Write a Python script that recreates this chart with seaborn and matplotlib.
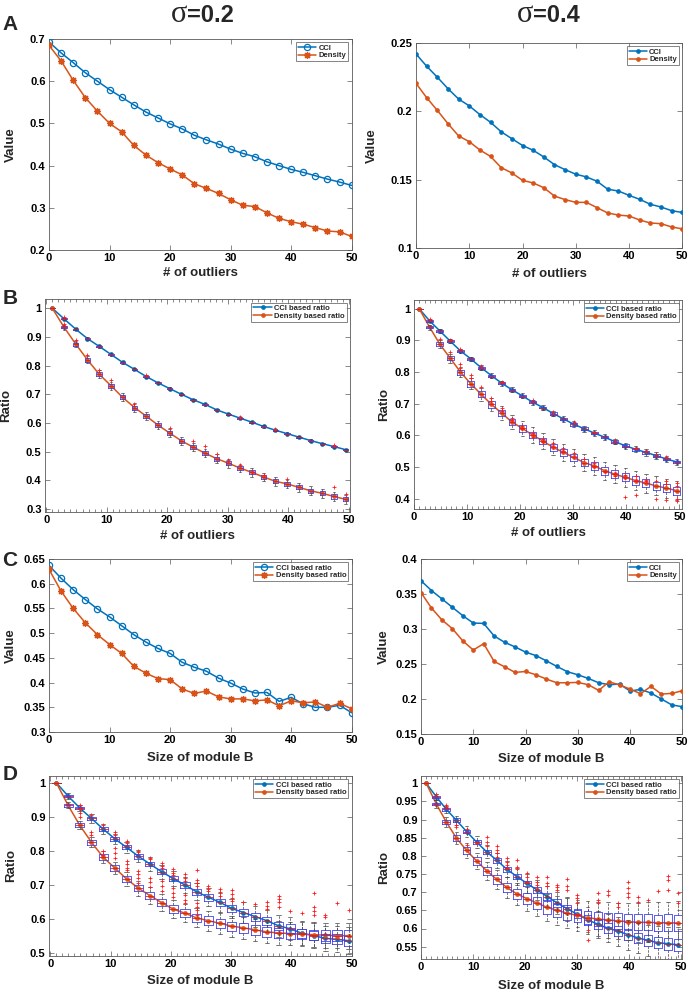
import numpy as np
import pandas as pd
import matplotlib
matplotlib.use("Agg")
import matplotlib.pyplot as plt
import seaborn as sns
from matplotlib.ticker import FuncFormatter, MultipleLocator

# ---------------- data ----------------
x_grid = [0, 2, 4, 6, 8, 10, 12, 14, 16, 18, 20, 22, 24, 26, 28, 30, 32, 34, 36, 38, 40, 42, 44, 46, 48, 50]
x_box = [1.0, 2.94, 4.88, 6.82, 8.76, 10.7, 12.64, 14.58, 16.52, 18.46, 20.4, 22.34, 24.28, 26.22,
         28.16, 30.1, 32.04, 33.98, 35.92, 37.86, 39.8, 41.74, 43.68, 45.62, 47.56, 49.5]

# Panel A
a1_cci = [0.693, 0.667, 0.644, 0.620, 0.600, 0.580, 0.562, 0.544, 0.527, 0.513, 0.499, 0.487, 0.472,
          0.461, 0.451, 0.439, 0.429, 0.421, 0.409, 0.400, 0.391, 0.384, 0.376, 0.368, 0.361, 0.353]
a1_den = [0.685, 0.648, 0.602, 0.561, 0.529, 0.500, 0.480, 0.448, 0.425, 0.407, 0.392, 0.378, 0.357,
          0.346, 0.334, 0.319, 0.306, 0.303, 0.288, 0.275, 0.267, 0.261, 0.253, 0.245, 0.243, 0.232]
a2_cci = [0.242, 0.233, 0.225, 0.2166, 0.209, 0.204, 0.1976, 0.192, 0.185, 0.180, 0.175, 0.1715, 0.1666,
          0.161, 0.1573, 0.154, 0.152, 0.1488, 0.143, 0.1417, 0.1385, 0.1356, 0.132, 0.130, 0.1273, 0.126]
a2_den = [0.2205, 0.210, 0.2007, 0.191, 0.182, 0.1778, 0.1717, 0.167, 0.1588, 0.1549, 0.1495, 0.1476, 0.1441,
          0.138, 0.1354, 0.1334, 0.1334, 0.1295, 0.1256, 0.1241, 0.1234, 0.1205, 0.1183, 0.1178, 0.1154, 0.114]

# Panel B
b1_cci = [1.0, 0.963, 0.927, 0.894, 0.867, 0.839, 0.811, 0.787, 0.762, 0.740, 0.720, 0.700, 0.681,
          0.665, 0.646, 0.631, 0.617, 0.603, 0.588, 0.575, 0.563, 0.551, 0.539, 0.528, 0.518, 0.507]
b1_den = [1.0, 0.934, 0.875, 0.820, 0.770, 0.730, 0.689, 0.654, 0.624, 0.593, 0.565, 0.538, 0.516,
          0.495, 0.476, 0.460, 0.443, 0.428, 0.412, 0.397, 0.388, 0.376, 0.364, 0.355, 0.344, 0.334]
b1_cci_box = [0, .002, .002, .002, .002, .002, .002, .002, .002, .002, .002, .002, .002,
              .002, .002, .002, .002, .002, .002, .002, .002, .002, .002, .002, .002, .002]
b1_cci_wsk = [0, .004, .004, .004, .004, .004, .004, .004, .004, .004, .004, .004, .004,
              .004, .004, .004, .004, .004, .004, .004, .004, .004, .004, .004, .004, .004]
b1_den_box = [0, .004, .005, .006, .006, .007, .007, .007, .007, .007, .007, .007, .007,
              .007, .007, .007, .007, .007, .007, .007, .007, .007, .007, .007, .007, .007]
b1_den_wsk = [0, .009, .011, .012, .013, .014, .014, .015, .015, .015, .015, .015, .015,
              .015, .015, .015, .015, .015, .015, .015, .015, .015, .015, .015, .015, .015]
b1_out_i = [2, 2, 3, 4, 5, 6, 8, 9, 11, 13, 14, 15, 16, 17, 17, 18, 19, 20, 21, 25, 26, 25]
b1_out_v = [0.968, 0.945, 0.888, 0.838, 0.785, 0.751, 0.667, 0.768, 0.582, 0.536, 0.519, 0.493, 0.47,
            0.453, 0.622, 0.43, 0.42, 0.58, 0.406, 0.377, 0.351, 0.523]

b2_cci = [1.0, 0.962, 0.930, 0.898, 0.867, 0.842, 0.814, 0.789, 0.765, 0.744, 0.725, 0.705, 0.688,
          0.669, 0.652, 0.635, 0.621, 0.607, 0.594, 0.580, 0.567, 0.556, 0.546, 0.536, 0.525, 0.516]
b2_den = [1.0, 0.942, 0.888, 0.844, 0.800, 0.763, 0.730, 0.698, 0.670, 0.642, 0.622, 0.601, 0.582,
          0.562, 0.546, 0.530, 0.514, 0.503, 0.488, 0.477, 0.467, 0.457, 0.449, 0.440, 0.433, 0.425]
b2_cci_box = [0, .002, .003, .003, .003, .003, .003, .003, .003, .003, .003, .003, .003,
              .004, .004, .004, .004, .004, .004, .004, .004, .004, .004, .004, .004, .004]
b2_cci_wsk = [0, .005, .006, .006, .007, .007, .007, .008, .008, .008, .008, .008, .008,
              .009, .009, .009, .009, .009, .009, .009, .010, .010, .010, .010, .010, .010]
b2_den_box = [0, .004, .006, .007, .008, .009, .009, .010, .010, .010, .010, .011, .011,
              .011, .012, .012, .012, .012, .012, .013, .013, .013, .013, .013, .013, .013]
b2_den_wsk = [0, .008, .012, .014, .016, .018, .020, .020, .022, .022, .024, .024, .025,
              .025, .026, .026, .027, .027, .028, .028, .030, .030, .030, .030, .030, .030]
b2_out_i = [3, 4, 5, 5, 6, 6, 7, 8, 8, 9, 9, 10, 10, 11, 11, 12, 12, 13, 13, 14, 14, 15, 15, 16, 16,
            17, 18, 18, 19, 20, 20, 21, 21, 21, 22, 22, 22, 23, 23, 24, 24, 25, 25, 25, 26, 26, 26, 26,
            2, 4, 5, 7, 9, 12, 14, 16, 18, 20, 22, 23, 24, 25]
b2_out_v = [0.905, 0.862, 0.826, 0.812, 0.79, 0.78, 0.754, 0.717, 0.707, 0.686, 0.678, 0.656, 0.647,
            0.628, 0.619, 0.607, 0.596, 0.588, 0.58, 0.575, 0.564, 0.559, 0.55, 0.543, 0.533,
            0.524, 0.512, 0.501, 0.485, 0.48, 0.47, 0.474, 0.464, 0.405, 0.47, 0.46, 0.41, 0.46, 0.455,
            0.456, 0.40, 0.455, 0.445, 0.395, 0.45, 0.44, 0.398, 0.392,
            0.967, 0.903, 0.872, 0.82, 0.77, 0.712, 0.675, 0.641, 0.612, 0.586, 0.561, 0.552, 0.541, 0.531]

# Panel C
c1_cci = [0.637, 0.611, 0.588, 0.568, 0.549, 0.533, 0.515, 0.497, 0.482, 0.469, 0.459, 0.441, 0.431,
          0.423, 0.409, 0.399, 0.387, 0.379, 0.380, 0.362, 0.370, 0.357, 0.350, 0.350, 0.354, 0.339]
c1_den = [0.629, 0.585, 0.550, 0.521, 0.497, 0.477, 0.459, 0.433, 0.419, 0.408, 0.406, 0.387, 0.378,
          0.383, 0.371, 0.367, 0.367, 0.363, 0.365, 0.353, 0.363, 0.359, 0.361, 0.350, 0.358, 0.347]
c2_cci = [0.369, 0.355, 0.343, 0.331, 0.319, 0.3085, 0.308, 0.290, 0.281, 0.2744, 0.267, 0.262, 0.2545,
          0.2465, 0.239, 0.2346, 0.2294, 0.2232, 0.2204, 0.2213, 0.2114, 0.2137, 0.2085, 0.200, 0.1915, 0.189]
c2_den = [0.352, 0.330, 0.313, 0.3005, 0.283, 0.270, 0.279, 0.2536, 0.246, 0.238, 0.2393, 0.2346, 0.2284,
          0.2232, 0.2232, 0.2237, 0.2204, 0.2123, 0.2246, 0.220, 0.2142, 0.2076, 0.218, 0.2071, 0.208, 0.2118]

# Panel D
d1_cci = [1.0, 0.961, 0.926, 0.895, 0.864, 0.835, 0.810, 0.784, 0.761, 0.738, 0.718, 0.699, 0.679,
          0.663, 0.648, 0.630, 0.618, 0.606, 0.594, 0.579, 0.570, 0.557, 0.550, 0.542, 0.539, 0.535]
d1_den = [1.0, 0.934, 0.875, 0.825, 0.781, 0.749, 0.717, 0.690, 0.668, 0.647, 0.628, 0.616, 0.602,
          0.594, 0.586, 0.578, 0.573, 0.567, 0.561, 0.558, 0.556, 0.554, 0.553, 0.551, 0.550, 0.550]
d1_cci_box = [0, .003, .004, .005, .005, .006, .006, .007, .007, .008, .008, .009, .009,
              .010, .010, .011, .011, .012, .012, .012, .013, .013, .014, .014, .015, .015]
d1_cci_wsk = [0, .008, .010, .012, .014, .015, .017, .018, .020, .021, .022, .024, .025,
              .026, .028, .029, .030, .031, .032, .033, .034, .035, .036, .037, .038, .040]
d1_den_box = [0, .004, .006, .007, .008, .009, .010, .010, .011, .011, .012, .012, .012,
              .013, .013, .013, .014, .014, .014, .015, .015, .015, .015, .016, .016, .016]
d1_den_wsk = [0, .009, .012, .015, .017, .019, .021, .022, .024, .025, .026, .027, .028,
              .029, .030, .031, .032, .033, .034, .035, .035, .036, .036, .037, .037, .038]
d1_out_i = [3, 4, 5, 6, 6, 7, 7, 8, 8, 9, 9, 10, 10, 10, 11, 11, 11, 12, 12, 12, 13, 13, 13, 13,
            14, 14, 14, 15, 15, 15, 16, 16, 16, 16, 17, 18, 19, 19, 19, 20, 20, 20, 20, 21, 22,
            23, 23, 23, 23, 24, 24, 25, 26,
            3, 3, 3, 4, 4, 5, 5, 6, 6, 6, 7, 7, 7, 7, 8, 8, 8, 8, 9, 9, 9, 10, 10, 10, 11, 11, 11,
            12, 12, 12, 13, 13, 13, 13]
d1_out_v = [0.935, 0.905, 0.876, 0.855, 0.847, 0.83, 0.822, 0.80, 0.796, 0.78, 0.775, 0.765, 0.755,
            0.748, 0.745, 0.735, 0.728, 0.73, 0.72, 0.712, 0.742, 0.715, 0.705, 0.695, 0.695, 0.688,
            0.68, 0.688, 0.678, 0.668, 0.683, 0.672, 0.662, 0.652, 0.648, 0.643, 0.648, 0.638, 0.628,
            0.667, 0.658, 0.648, 0.635, 0.622, 0.618, 0.675, 0.635, 0.622, 0.612, 0.612, 0.605, 0.645,
            0.625,
            0.923, 0.91, 0.898, 0.856, 0.846, 0.80, 0.787, 0.807, 0.794, 0.78, 0.77, 0.76, 0.75, 0.742,
            0.74, 0.73, 0.72, 0.705, 0.72, 0.708, 0.694, 0.71, 0.695, 0.682, 0.69, 0.676, 0.665,
            0.67, 0.655, 0.645, 0.645, 0.635, 0.626, 0.612]

d2_cci = [1.0, 0.963, 0.928, 0.898, 0.867, 0.838, 0.811, 0.788, 0.763, 0.743, 0.724, 0.706, 0.688,
          0.670, 0.654, 0.639, 0.624, 0.612, 0.601, 0.593, 0.583, 0.574, 0.567, 0.561, 0.558, 0.555]
d2_den = [1.0, 0.943, 0.893, 0.849, 0.815, 0.786, 0.759, 0.735, 0.713, 0.695, 0.682, 0.670, 0.658,
          0.650, 0.642, 0.636, 0.630, 0.626, 0.624, 0.621, 0.619, 0.617, 0.617, 0.616, 0.616, 0.615]
d2_cci_box = [0, .003, .004, .005, .005, .006, .006, .007, .007, .008, .008, .009, .009,
              .010, .011, .011, .012, .012, .013, .013, .014, .014, .015, .015, .016, .016]
d2_cci_wsk = [0, .008, .010, .012, .014, .016, .018, .020, .022, .024, .025, .027, .028,
              .030, .032, .034, .035, .037, .038, .040, .041, .042, .044, .045, .046, .048]
d2_den_box = [0, .004, .006, .008, .009, .010, .011, .012, .013, .014, .015, .016, .017,
              .017, .018, .019, .019, .020, .020, .021, .021, .022, .022, .022, .023, .023]
d2_den_wsk = [0, .010, .014, .017, .020, .022, .025, .027, .029, .031, .033, .035, .037,
              .039, .041, .043, .045, .047, .049, .050, .052, .054, .055, .057, .058, .060]
d2_out_i = [2, 3, 3, 4, 4, 5, 5, 6, 7, 7, 7, 8, 8, 8, 8, 9, 9, 9, 9, 10, 10, 10, 11, 11, 11,
            12, 12, 12, 12, 13, 13, 13, 14, 14, 14, 15, 15, 15, 16, 16, 16, 17, 17, 18, 18, 18,
            19, 19, 20, 20, 21, 21, 21, 21, 22, 22, 23, 24, 25, 25, 25, 26, 26]
d2_out_v = [0.97, 0.94, 0.934, 0.885, 0.879, 0.874, 0.83, 0.835, 0.853, 0.839, 0.826, 0.826, 0.817,
            0.807, 0.798, 0.794, 0.784, 0.775, 0.766, 0.79, 0.77, 0.763, 0.752, 0.743, 0.729, 0.743,
            0.729, 0.72, 0.708, 0.743, 0.725, 0.716, 0.72, 0.714, 0.706, 0.736, 0.716, 0.706, 0.693,
            0.683, 0.67, 0.596, 0.569, 0.697, 0.679, 0.67, 0.704, 0.693, 0.67, 0.66, 0.729, 0.711,
            0.697, 0.688, 0.688, 0.674, 0.679, 0.704, 0.745, 0.734, 0.706, 0.699, 0.67]

# ---------------- style ----------------
sns.set_theme(style="white")
plt.rcParams['font.family'] = ['Liberation Sans', 'DejaVu Sans']
plt.rcParams['font.weight'] = 'bold'
plt.rcParams['axes.labelweight'] = 'bold'

BLUE = (0.0, 0.447, 0.741)
RED = (0.85, 0.325, 0.098)
W, H = 691, 992

fig = plt.figure(figsize=(6.91, 9.92), dpi=100)
fig.patch.set_facecolor('white')


def add_ax(x0, x1, y0, y1):
    return fig.add_axes([x0 / W, 1 - y1 / H, (x1 - x0) / W, (y1 - y0) / H])


def style(ax, box, xlim, ylim, yticks, xlabel, ylabel, ylab_px, xlab_gap, minor=False):
    x0, x1, y0, y1 = box
    ax.set_xlim(*xlim)
    ax.set_ylim(*ylim)
    ax.set_xticks([0, 10, 20, 30, 40, 50])
    ax.set_yticks(yticks)
    ax.yaxis.set_major_formatter(FuncFormatter(lambda v, p: f"{round(v, 3):g}"))
    ax.tick_params(which='both', direction='in', top=True, right=True, bottom=True, left=True,
                   color='0.35', labelcolor='black', width=0.5)
    ax.tick_params(which='major', length=3.5, labelsize=8, pad=2.5)
    if minor:
        ax.xaxis.set_minor_locator(MultipleLocator(1))
        ax.tick_params(which='minor', length=2)
    for s in ax.spines.values():
        s.set_linewidth(0.6)
        s.set_color('0.35')
    ax.set_xlabel(xlabel, fontsize=9.5, fontweight='bold', va='top')
    ax.set_ylabel(ylabel, fontsize=9.5, fontweight='bold')
    ax.xaxis.set_label_coords(0.5, -xlab_gap / (y1 - y0))
    ax.yaxis.set_label_coords((ylab_px - x0) / (x1 - x0), 0.5)
    ax.grid(False)
    for t in ax.get_xticklabels() + ax.get_yticklabels():
        t.set_fontweight('bold')


def lines(ax, x, yc, yd, kind, labels):
    if kind == 'open':
        sns.lineplot(x=x, y=yc, ax=ax, color=BLUE, lw=1.1, marker='o', markersize=4.5,
                     markerfacecolor='none', markeredgecolor=BLUE, markeredgewidth=0.9,
                     label=labels[0], sort=False, zorder=3, legend=False)
        sns.lineplot(x=x, y=yd, ax=ax, color=RED, lw=1.1, marker=(8, 2, 0), markersize=5,
                     markeredgecolor=RED, markeredgewidth=0.9,
                     label=labels[1], sort=False, zorder=3, legend=False)
    else:
        sns.lineplot(x=x, y=yc, ax=ax, color=BLUE, lw=1.1, marker='o', markersize=2.8,
                     markerfacecolor=BLUE, markeredgecolor=BLUE, markeredgewidth=0.5,
                     label=labels[0], sort=False, zorder=3, legend=False)
        sns.lineplot(x=x, y=yd, ax=ax, color=RED, lw=1.1, marker='o', markersize=2.8,
                     markerfacecolor=RED, markeredgecolor=RED, markeredgewidth=0.5,
                     label=labels[1], sort=False, zorder=3, legend=False)
    leg = ax.legend(loc='upper right', prop={'size': 5.5, 'weight': 'bold'}, frameon=True,
                    fancybox=False, edgecolor='0.3', borderpad=0.25, handlelength=2.4,
                    handletextpad=0.3, labelspacing=0.05, borderaxespad=0.45)
    leg.get_frame().set_linewidth(0.6)


def boxes(ax, x, med, half, wsk, width=1.5):
    stats = []
    for m, h, w in zip(med, half, wsk):
        stats.append(dict(med=m, q1=m - h, q3=m + h, whislo=m - w, whishi=m + w, fliers=[]))
    ax.bxp(stats, positions=x, widths=width, showfliers=False, manage_ticks=False, zorder=4,
           boxprops=dict(color=(0.25, 0.25, 0.95), lw=0.6),
           medianprops=dict(color=(0.9, 0.1, 0.1), lw=0.6),
           whiskerprops=dict(color='0.25', ls='--', lw=0.5),
           capprops=dict(color='0.25', lw=0.5))


def outliers(ax, x, idx, vals):
    xs = [x[i - 1] for i in idx]
    ax.plot(xs, vals, ls='none', marker='+', color=(1.0, 0.1, 0.1), markersize=3.5,
            markeredgewidth=0.6, zorder=5)


# ---- Panel A ----
boxA1 = (49, 351.7, 39, 250)
ax = add_ax(*boxA1)
lines(ax, x_grid, a1_cci, a1_den, 'open', ['CCI', 'Density'])
style(ax, boxA1, (0, 50), (0.2, 0.7), [0.2, 0.3, 0.4, 0.5, 0.6, 0.7], '# of outliers', 'Value', 17, 17)

boxA2 = (416, 682.3, 43, 248)
ax = add_ax(*boxA2)
lines(ax, x_grid, a2_cci, a2_den, 'dot', ['CCI', 'Density'])
style(ax, boxA2, (0, 50), (0.1, 0.25), [0.1, 0.15, 0.2, 0.25], '# of outliers', 'Value', 378, 20)

# ---- Panel B ----
boxB1 = (45, 350, 299.3, 512)
ax = add_ax(*boxB1)
lines(ax, x_box, b1_cci, b1_den, 'dot', ['CCI based ratio', 'Density based ratio'])
boxes(ax, x_box, b1_cci, b1_cci_box, b1_cci_wsk, width=0.9)
boxes(ax, x_box, b1_den, b1_den_box, b1_den_wsk, width=0.9)
outliers(ax, x_box, b1_out_i, b1_out_v)
style(ax, boxB1, (-0.2, 50.2), (0.29, 1.031), [0.3, 0.4, 0.5, 0.6, 0.7, 0.8, 0.9, 1.0],
      '# of outliers', 'Ratio', 12, 18, minor=True)

boxB2 = (414, 682.3, 300, 509)
ax = add_ax(*boxB2)
lines(ax, x_box, b2_cci, b2_den, 'dot', ['CCI based ratio', 'Density based ratio'])
boxes(ax, x_box, b2_cci, b2_cci_box, b2_cci_wsk, width=1.3)
boxes(ax, x_box, b2_den, b2_den_box, b2_den_wsk, width=1.3)
outliers(ax, x_box, b2_out_i, b2_out_v)
style(ax, boxB2, (0.06, 50.55), (0.367, 1.028), [0.4, 0.5, 0.6, 0.7, 0.8, 0.9, 1.0],
      '# of outliers', 'Ratio', 390, 18, minor=True)

# ---- Panel C ----
boxC1 = (49, 351.7, 559, 732)
ax = add_ax(*boxC1)
lines(ax, x_grid, c1_cci, c1_den, 'open', ['CCI based ratio', 'Density based ratio'])
style(ax, boxC1, (0, 50), (0.3, 0.65), [0.3, 0.35, 0.4, 0.45, 0.5, 0.55, 0.6, 0.65],
      'Size of module B', 'Value', 17, 20)

boxC2 = (421, 682.3, 559, 734)
ax = add_ax(*boxC2)
lines(ax, x_grid, c2_cci, c2_den, 'dot', ['CCI', 'Density'])
style(ax, boxC2, (0, 50), (0.15, 0.4), [0.15, 0.2, 0.25, 0.3, 0.35, 0.4],
      'Size of module B', 'Value', 390, 19)

# ---- Panel D ----
boxD1 = (49, 351.7, 776, 956)
ax = add_ax(*boxD1)
lines(ax, x_box, d1_cci, d1_den, 'dot', ['CCI based ratio', 'Density based ratio'])
boxes(ax, x_box, d1_cci, d1_cci_box, d1_cci_wsk)
boxes(ax, x_box, d1_den, d1_den_box, d1_den_wsk)
outliers(ax, x_box, d1_out_i, d1_out_v)
style(ax, boxD1, (-0.22, 49.78), (0.49, 1.02), [0.5, 0.6, 0.7, 0.8, 0.9, 1.0],
      'Size of module B', 'Ratio', 17, 19, minor=True)

boxD2 = (421, 682.3, 776, 959)
ax = add_ax(*boxD2)
lines(ax, x_box, d2_cci, d2_den, 'dot', ['CCI based ratio', 'Density based ratio'])
boxes(ax, x_box, d2_cci, d2_cci_box, d2_cci_wsk)
boxes(ax, x_box, d2_den, d2_den_box, d2_den_wsk)
outliers(ax, x_box, d2_out_i, d2_out_v)
style(ax, boxD2, (0.18, 50.27), (0.516, 1.02), [0.55, 0.6, 0.65, 0.7, 0.75, 0.8, 0.85, 0.9, 0.95, 1.0],
      'Size of module B', 'Ratio', 390, 21, minor=True)

# ---- titles and panel letters ----
for sx, lab in [(187, '=0.2'), (533, '=0.4')]:
    fig.text(sx / W, 1 - 21.7 / H, 'σ', ha='right', va='baseline', fontsize=22,
             family=['Liberation Serif', 'DejaVu Serif'], fontweight='normal')
    fig.text(sx / W, 1 - 21.7 / H, lab, ha='left', va='baseline', fontsize=17, fontweight='bold')

for lab, yc in [('A', 24.5), ('B', 298.5), ('C', 560), ('D', 775)]:
    fig.text(10 / W, 1 - yc / H, lab, ha='center', va='center', fontsize=15, fontweight='bold')

fig.savefig('out.png', dpi=100, facecolor='white')
